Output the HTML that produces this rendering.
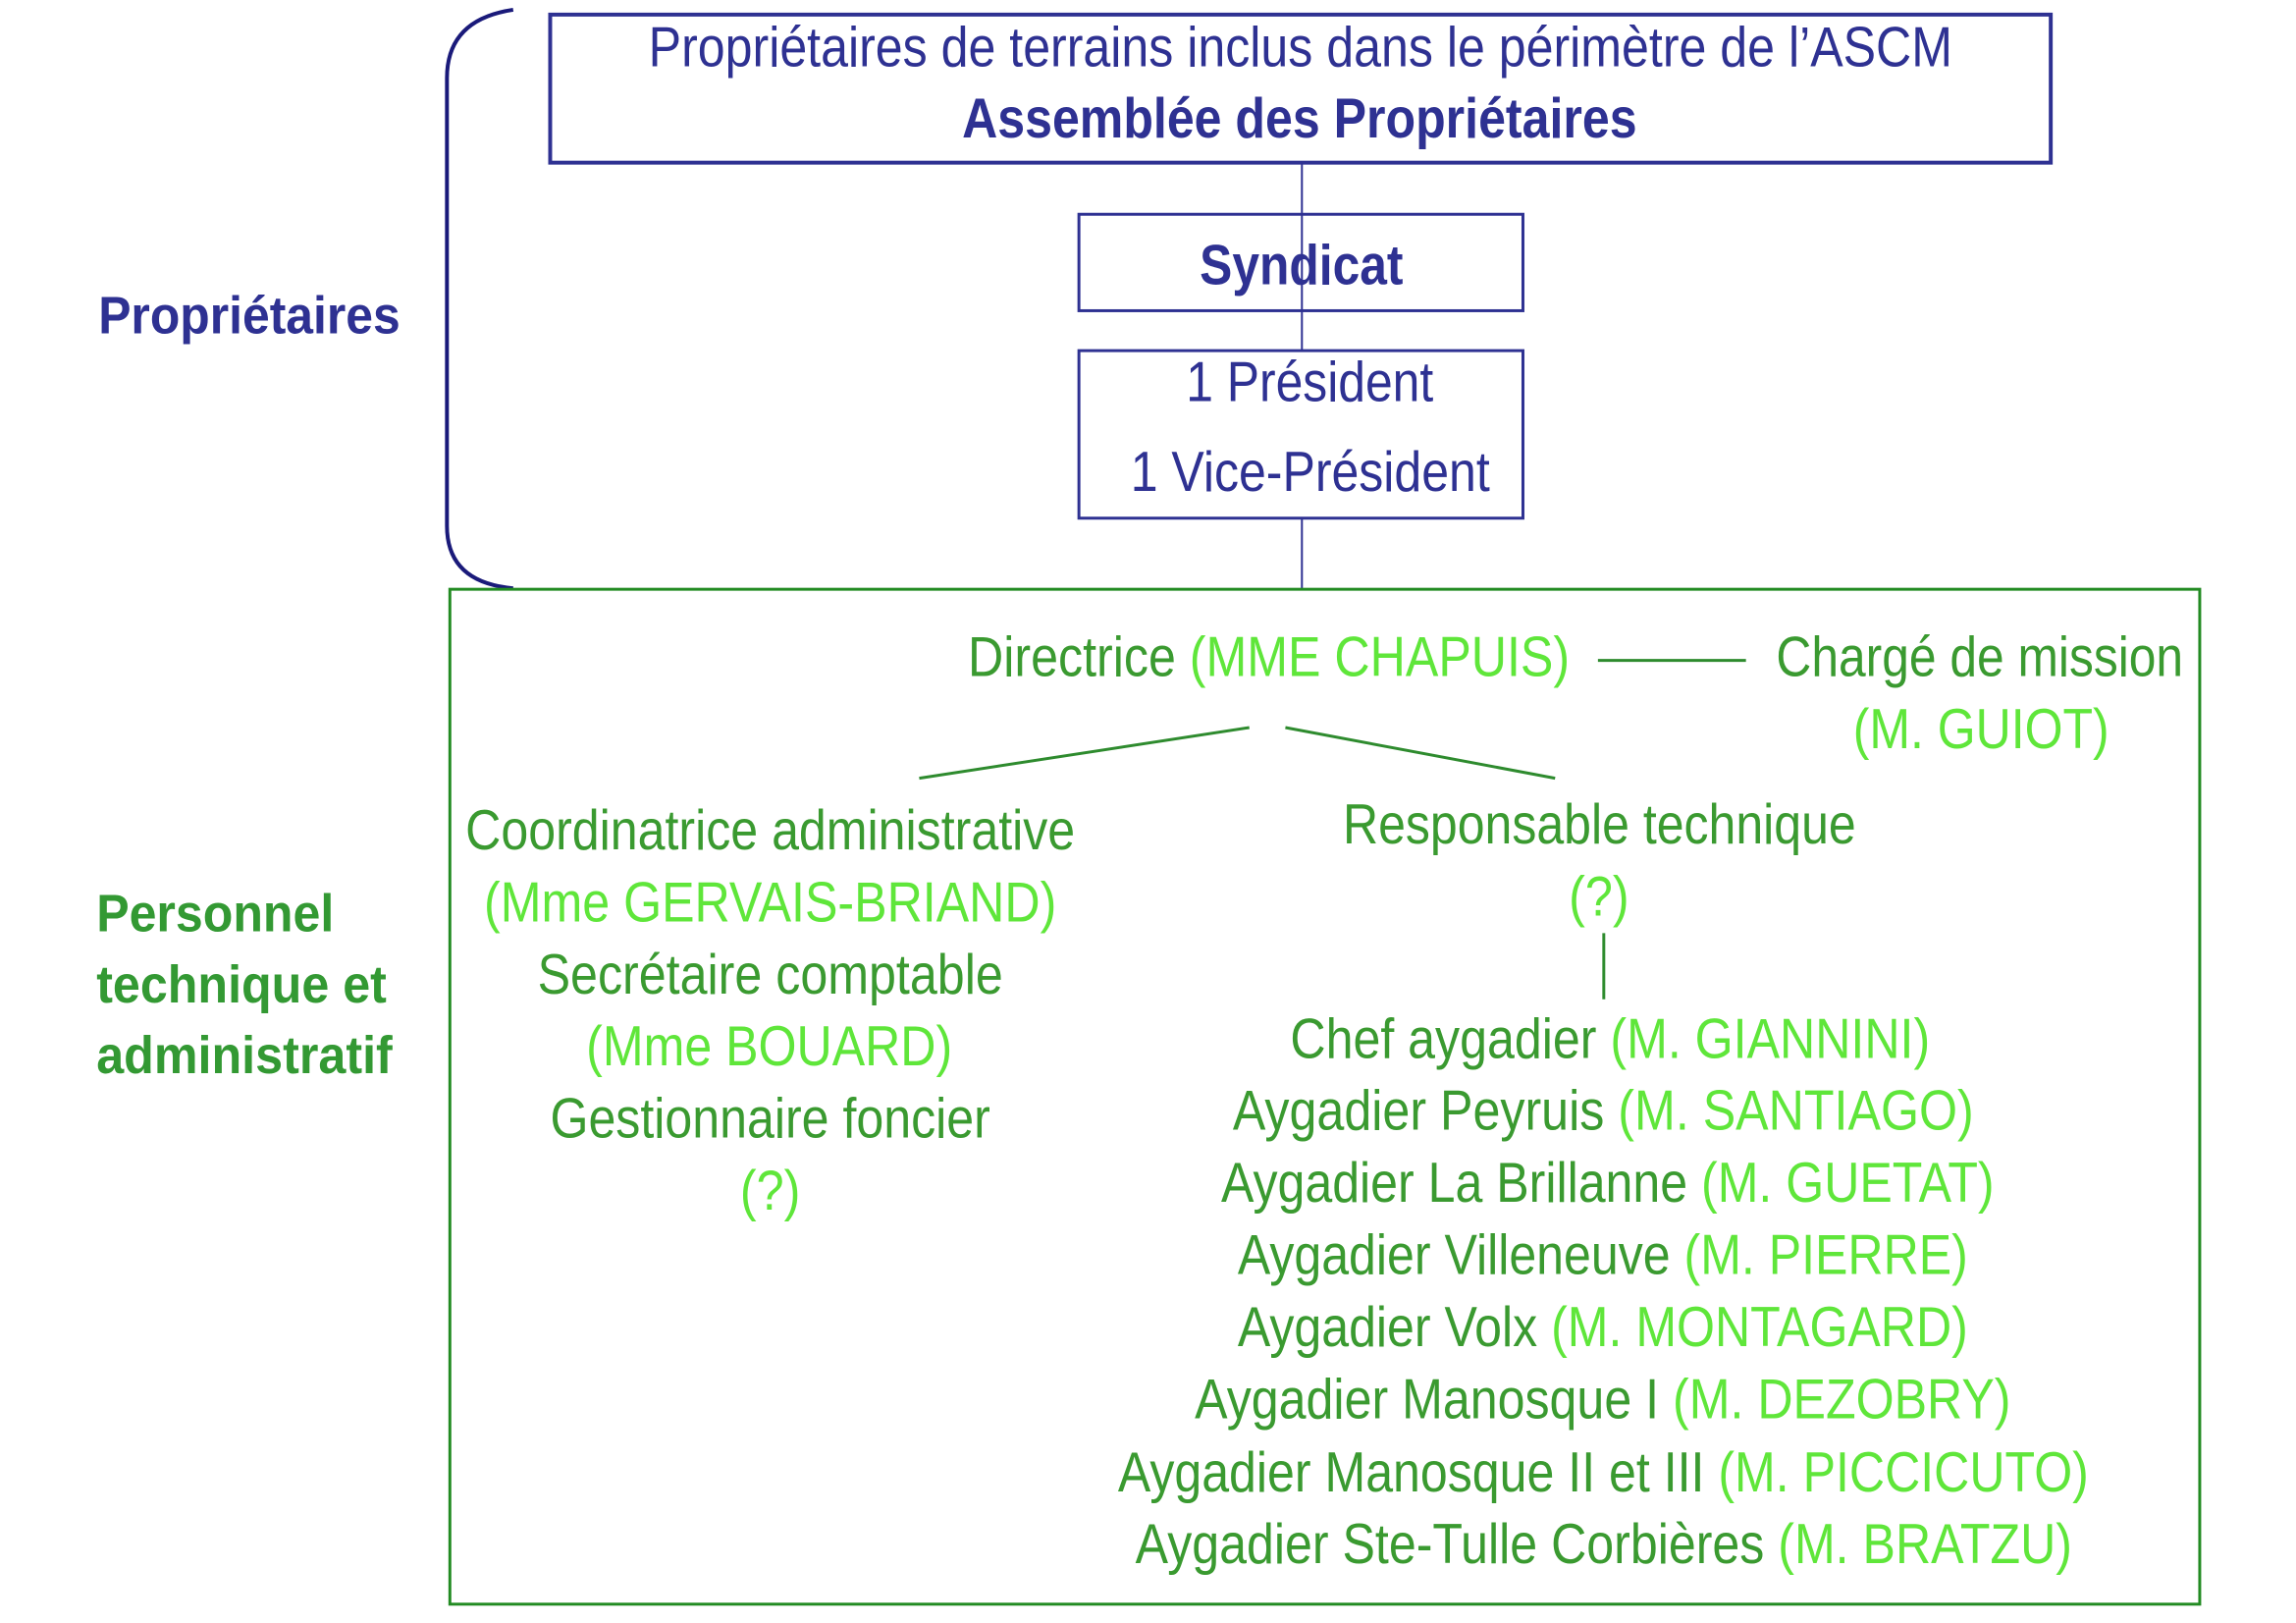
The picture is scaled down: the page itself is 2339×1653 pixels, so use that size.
<!DOCTYPE html>
<html><head><meta charset="utf-8"><style>
html,body{margin:0;padding:0;background:#fff;}
svg{display:block;}
text{font-family:"Liberation Sans",sans-serif;}
</style></head><body>
<svg width="2339" height="1653" viewBox="0 0 2339 1653" xmlns="http://www.w3.org/2000/svg">
<g transform="scale(0.992)">
<g fill="none" stroke="#2e3192">
<rect x="565" y="15" width="1541" height="152" stroke-width="4"/>
<rect x="1108" y="220" width="456" height="99" stroke-width="3"/>
<rect x="1108" y="360" width="456" height="172" stroke-width="3"/>
<line x1="1337" y1="167" x2="1337" y2="360" stroke-width="2"/>
<line x1="1337" y1="532" x2="1337" y2="605" stroke-width="2"/>
<path d="M527,10 Q459,20 459,80 L459,540 Q459,598 527,604" stroke="#1a1a7a" stroke-width="4"/>
</g>
<rect x="462" y="605" width="1797" height="1042" fill="none" stroke="#228b22" stroke-width="3"/>
<g stroke="#2e8b2e" stroke-width="3">
<line x1="1641" y1="678" x2="1793" y2="678"/>
<line x1="944" y1="799" x2="1283" y2="747"/>
<line x1="1320" y1="747" x2="1597" y2="799"/>
<line x1="1647" y1="958" x2="1647" y2="1026"/>
</g>
<g fill="#2e3192" font-size="58">
<text x="666" y="68" textLength="1339" lengthAdjust="spacingAndGlyphs">Propriétaires de terrains inclus dans le périmètre de l’ASCM</text>
<text x="988" y="141" font-weight="bold" textLength="693" lengthAdjust="spacingAndGlyphs">Assemblée des Propriétaires</text>
<text x="1232" y="292" font-weight="bold" textLength="209" lengthAdjust="spacingAndGlyphs">Syndicat</text>
<text x="1218" y="412" textLength="254" lengthAdjust="spacingAndGlyphs">1 Président</text>
<text x="1161" y="504" textLength="369" lengthAdjust="spacingAndGlyphs">1 Vice-Président</text>
<text x="101" y="342" font-weight="bold" font-size="54" textLength="310" lengthAdjust="spacingAndGlyphs">Propriétaires</text>
</g>
<g fill="#339933" font-weight="bold" font-size="54">
<text x="99" y="956" textLength="244" lengthAdjust="spacingAndGlyphs">Personnel</text>
<text x="99" y="1029" textLength="298" lengthAdjust="spacingAndGlyphs">technique et</text>
<text x="99" y="1102" textLength="304" lengthAdjust="spacingAndGlyphs">administratif</text>
</g>
<g fill="#3a9a30" font-size="58">
<text x="994" y="694" textLength="618" lengthAdjust="spacingAndGlyphs">Directrice <tspan fill="#5fe63a">(MME CHAPUIS)</tspan></text>
<text x="1824" y="694" textLength="418" lengthAdjust="spacingAndGlyphs">Chargé de mission</text>
<text x="1903" y="768" fill="#5fe63a" textLength="263" lengthAdjust="spacingAndGlyphs">(M. GUIOT)</text>
<text x="478" y="872" textLength="626" lengthAdjust="spacingAndGlyphs">Coordinatrice administrative</text>
<text x="497" y="946" fill="#5fe63a" textLength="588" lengthAdjust="spacingAndGlyphs">(Mme GERVAIS-BRIAND)</text>
<text x="552" y="1020" textLength="478" lengthAdjust="spacingAndGlyphs">Secrétaire comptable</text>
<text x="602" y="1094" fill="#5fe63a" textLength="376" lengthAdjust="spacingAndGlyphs">(Mme BOUARD)</text>
<text x="565" y="1168" textLength="452" lengthAdjust="spacingAndGlyphs">Gestionnaire foncier</text>
<text x="760" y="1242" fill="#5fe63a" textLength="62" lengthAdjust="spacingAndGlyphs">(?)</text>
<text x="1379" y="866" textLength="527" lengthAdjust="spacingAndGlyphs">Responsable technique</text>
<text x="1611" y="940" fill="#5fe63a" textLength="62" lengthAdjust="spacingAndGlyphs">(?)</text>
<text x="1325" y="1086" textLength="657" lengthAdjust="spacingAndGlyphs">Chef aygadier <tspan fill="#5fe63a">(M. GIANNINI)</tspan></text>
<text x="1266" y="1160" textLength="761" lengthAdjust="spacingAndGlyphs">Aygadier Peyruis <tspan fill="#5fe63a">(M. SANTIAGO)</tspan></text>
<text x="1254" y="1234" textLength="794" lengthAdjust="spacingAndGlyphs">Aygadier La Brillanne <tspan fill="#5fe63a">(M. GUETAT)</tspan></text>
<text x="1271" y="1308" textLength="750" lengthAdjust="spacingAndGlyphs">Aygadier Villeneuve <tspan fill="#5fe63a">(M. PIERRE)</tspan></text>
<text x="1271" y="1382" textLength="750" lengthAdjust="spacingAndGlyphs">Aygadier Volx <tspan fill="#5fe63a">(M. MONTAGARD)</tspan></text>
<text x="1227" y="1456" textLength="838" lengthAdjust="spacingAndGlyphs">Aygadier Manosque I <tspan fill="#5fe63a">(M. DEZOBRY)</tspan></text>
<text x="1148" y="1531" textLength="997" lengthAdjust="spacingAndGlyphs">Aygadier Manosque II et III <tspan fill="#5fe63a">(M. PICCICUTO)</tspan></text>
<text x="1166" y="1605" textLength="962" lengthAdjust="spacingAndGlyphs">Aygadier Ste-Tulle Corbières <tspan fill="#5fe63a">(M. BRATZU)</tspan></text>
</g>
</g>
</svg>
</body></html>
